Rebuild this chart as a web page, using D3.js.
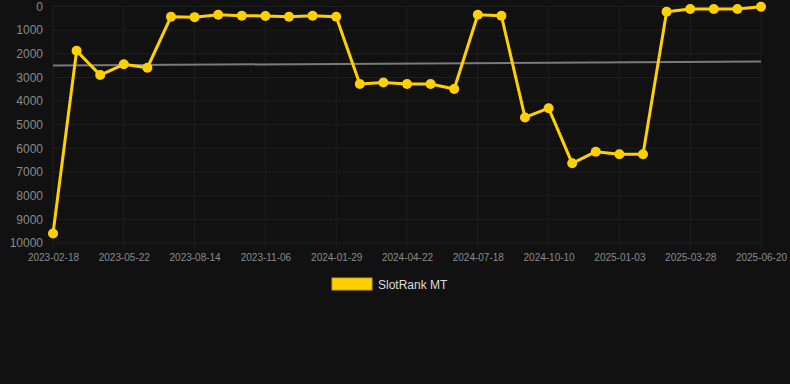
<!DOCTYPE html>
<html><head><meta charset="utf-8">
<script src="https://cdn.jsdelivr.net/npm/d3@7"></script>
<style>
html,body{margin:0;padding:0;background:#111111;}
svg{display:block;}
text{font-family:"Liberation Sans",Arial,sans-serif;}
</style></head><body>
<svg id="c" width="790" height="384"></svg>
<script>
const dates = ["2023-02-18","2023-03-21","2023-04-21","2023-05-22","2023-06-19","2023-07-17","2023-08-14","2023-09-11","2023-10-09","2023-11-06","2023-12-04","2024-01-01","2024-01-29","2024-02-26","2024-03-25","2024-04-22","2024-05-21","2024-06-19","2024-07-18","2024-08-15","2024-09-12","2024-10-10","2024-11-07","2024-12-05","2025-01-03","2025-01-31","2025-02-28","2025-03-28","2025-04-25","2025-05-23","2025-06-20"];
const rankValues = [9600,1870,2900,2445,2590,430,450,350,390,400,430,390,430,3280,3210,3280,3280,3490,350,390,4690,4300,6630,6140,6250,6250,220,105,105,105,10];
const yTicks = [0,1000,2000,3000,4000,5000,6000,7000,8000,9000,10000];
const seriesName = "SlotRank MT";

(function () {
const svg = d3.select("#c");
const pL = 53, pR = 761, pT = 6.5, pB = 243;

const x = d3.scalePoint().domain(dates).range([pL, pR]);
const y = d3.scaleLinear().domain([0, 10000]).range([pT, pB]);
const tickDates = dates.filter((d, i) => i % 3 === 0);

// grid
const grid = svg.append("g");
grid.selectAll("line.h").data(yTicks).join("line")
  .attr("x1", pL).attr("x2", pR)
  .attr("y1", d => y(d)).attr("y2", d => y(d))
  .attr("stroke", "#1e1e1e").attr("stroke-width", 1);
grid.selectAll("line.v").data(tickDates).join("line")
  .attr("x1", d => x(d)).attr("x2", d => x(d))
  .attr("y1", pT).attr("y2", pB + 6)
  .attr("stroke", "#1e1e1e").attr("stroke-width", 1);

// axes
const yAxis = svg.append("g").attr("transform", `translate(${pL - 10},0)`)
  .call(d3.axisLeft(y).tickValues(yTicks).tickSize(0).tickPadding(0).tickFormat(d3.format("d")));
yAxis.select(".domain").remove();
yAxis.selectAll("text").attr("fill", "#8a8a8a").attr("font-size", 12)
  .attr("font-family", "Liberation Sans, Arial, sans-serif");

const xAxis = svg.append("g").attr("transform", `translate(0,${pB + 8})`)
  .call(d3.axisBottom(x).tickValues(tickDates).tickSize(0).tickPadding(3));
xAxis.select(".domain").remove();
xAxis.selectAll("text").attr("fill", "#8a8a8a").attr("font-size", 10)
  .attr("font-family", "Liberation Sans, Arial, sans-serif");

// regression trend line
const idx = rankValues.map((v, i) => i);
const mx = d3.mean(idx), my = d3.mean(rankValues);
const slope = d3.sum(idx, i => (i - mx) * (rankValues[i] - my)) / d3.sum(idx, i => (i - mx) * (i - mx));
const icpt = my - slope * mx;
svg.append("line")
  .attr("x1", x(dates[0])).attr("x2", x(dates[dates.length - 1]))
  .attr("y1", y(icpt)).attr("y2", y(icpt + slope * (dates.length - 1)))
  .attr("stroke", "#7a7a7a").attr("stroke-width", 2);

// series
const color = "#FFD000";
svg.append("path").datum(rankValues)
  .attr("fill", "none").attr("stroke", color).attr("stroke-width", 3)
  .attr("stroke-linejoin", "round")
  .attr("d", d3.line().x((d, i) => x(dates[i])).y(d => y(d)));
svg.append("g").selectAll("circle").data(rankValues).join("circle")
  .attr("cx", (d, i) => x(dates[i])).attr("cy", d => y(d)).attr("r", 5)
  .attr("fill", color);

// legend
const lg = svg.append("g");
lg.append("rect").attr("x", 332).attr("y", 278).attr("width", 40).attr("height", 12)
  .attr("fill", color).attr("stroke", "#c9a300").attr("stroke-width", 1);
lg.append("text").attr("x", 378).attr("y", 288.5).attr("font-size", 12)
  .attr("fill", "#dddddd").text(seriesName);
})();
</script>
</body></html>
